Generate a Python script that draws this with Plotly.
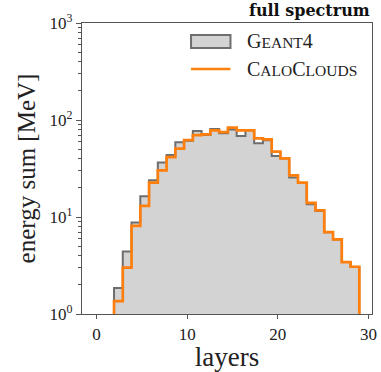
import numpy as np
import plotly.graph_objects as go

# 30 equal-width bins spanning layers 0..29
bin_edges = np.linspace(0, 29, 31)

# energy sum per layer bin [MeV]
geant4_energy = [0, 0, 1.85, 4.4, 8.8, 16.4, 23.9, 36.4, 43.5, 59, 61, 77, 70, 81, 73,
                 80, 68.4, 78.5, 57.5, 62, 42.5, 40, 25.5, 22.4, 13.5, 11.5, 6.95, 5.85, 3.43, 3.05]
caloclouds_energy = [0, 0, 1.36, 3.0, 8.1, 13.0, 22.6, 30.3, 41.5, 50.6, 62, 70, 71, 78, 75,
                     83.3, 78.2, 78, 64.7, 63, 47.2, 40.3, 26.9, 22.6, 14.0, 11.7, 6.98, 5.87, 3.43, 3.07]

y_ticks = [1, 10, 100, 1000]
y_tick_labels = ["10<sup>0</sup>", "10<sup>1</sup>", "10<sup>2</sup>", "10<sup>3</sup>"]
x_ticks = [0, 10, 20, 30]

FLOOR = 1e-3  # below the visible log range, so empty bins drop out of view
SERIF = "Liberation Serif"
G4_FILL, G4_EDGE, CC_COLOR = "#d3d3d3", "#6e6e6e", "#ff7f0e"


def step_outline(edges, values):
    """Closed step outline for a histogram (use with line_shape='hv')."""
    vals = [max(v, FLOOR) for v in values]
    xs = [edges[0]] + list(edges[:-1]) + [edges[-1]]
    ys = [FLOOR] + vals + [FLOOR]
    return xs, ys


def small_caps(word, big=20, small=15.5):
    """Emulate small capitals: leading capitals/digits full size, the rest reduced."""
    out = []
    for ch in word:
        if ch.isupper() or ch.isdigit():
            out.append(f"<span style='font-size:{big}px'>{ch}</span>")
        else:
            out.append(f"<span style='font-size:{small}px'>{ch.upper()}</span>")
    return "".join(out)


gx, gy = step_outline(bin_edges, geant4_energy)
cx, cy = step_outline(bin_edges, caloclouds_energy)

fig = go.Figure()
fig.add_trace(go.Scatter(
    x=gx, y=gy, mode="lines", line_shape="hv",
    fill="toself", fillcolor=G4_FILL,
    line=dict(color=G4_EDGE, width=2),
    name="Geant4", showlegend=False,
))
fig.add_trace(go.Scatter(
    x=cx, y=cy, mode="lines", line_shape="hv",
    line=dict(color=CC_COLOR, width=2.7),
    name="CaloClouds", showlegend=False,
))

axis_common = dict(
    showline=True, linecolor="#555555", linewidth=1.2, mirror=True,
    ticks="outside", tickcolor="#555555", tickwidth=1, showgrid=False, zeroline=False,
    tickfont=dict(family=SERIF, size=17, color="#222222"),
)

fig.update_xaxes(
    range=[-1.6, 30.4], tickvals=x_ticks, ticklen=4, ticklabeloverflow="allow",
    title=dict(text="layers", font=dict(family=SERIF, size=27, color="#222222"), standoff=6),
    **axis_common,
)

minor_vals = [m * 10 ** d for d in range(0, 3) for m in range(2, 10)]
fig.update_yaxes(
    type="log", range=[0, 3], tickvals=y_ticks, ticktext=y_tick_labels, ticklen=5,
    minor=dict(tickvals=minor_vals, ticks="outside", ticklen=2.5, tickcolor="#555555", tickwidth=0.8),
    title=dict(text="energy sum [MeV]", font=dict(family=SERIF, size=25, color="#222222"), standoff=6),
    **axis_common,
)

# legend keys, placed in axis-domain coordinates
fig.add_shape(type="rect", xref="x domain", yref="y domain",
              x0=0.376, x1=0.512, y0=0.914, y1=0.959,
              fillcolor=G4_FILL, line=dict(color=G4_EDGE, width=2))
fig.add_shape(type="line", xref="x domain", yref="y domain",
              x0=0.376, x1=0.512, y0=0.842, y1=0.842,
              line=dict(color=CC_COLOR, width=2.7))
for label, yd in [("Geant4", 0.937), ("CaloClouds", 0.842)]:
    fig.add_annotation(
        text=small_caps(label), xref="x domain", yref="y domain", x=0.563, y=yd,
        xanchor="left", yanchor="middle", showarrow=False,
        font=dict(family=SERIF, size=20, color="#222222"),
    )

fig.add_annotation(
    text="<b>full spectrum</b>", xref="paper", yref="paper", x=1, y=1,
    xanchor="right", yanchor="bottom", yshift=1, showarrow=False,
    font=dict(family="DejaVu Serif", size=16, color="#111111"),
)

fig.update_layout(
    width=381, height=372,
    margin=dict(l=82, r=4, t=23, b=57),
    plot_bgcolor="white", paper_bgcolor="white",
    showlegend=False,
)

fig.write_html("out.html")
